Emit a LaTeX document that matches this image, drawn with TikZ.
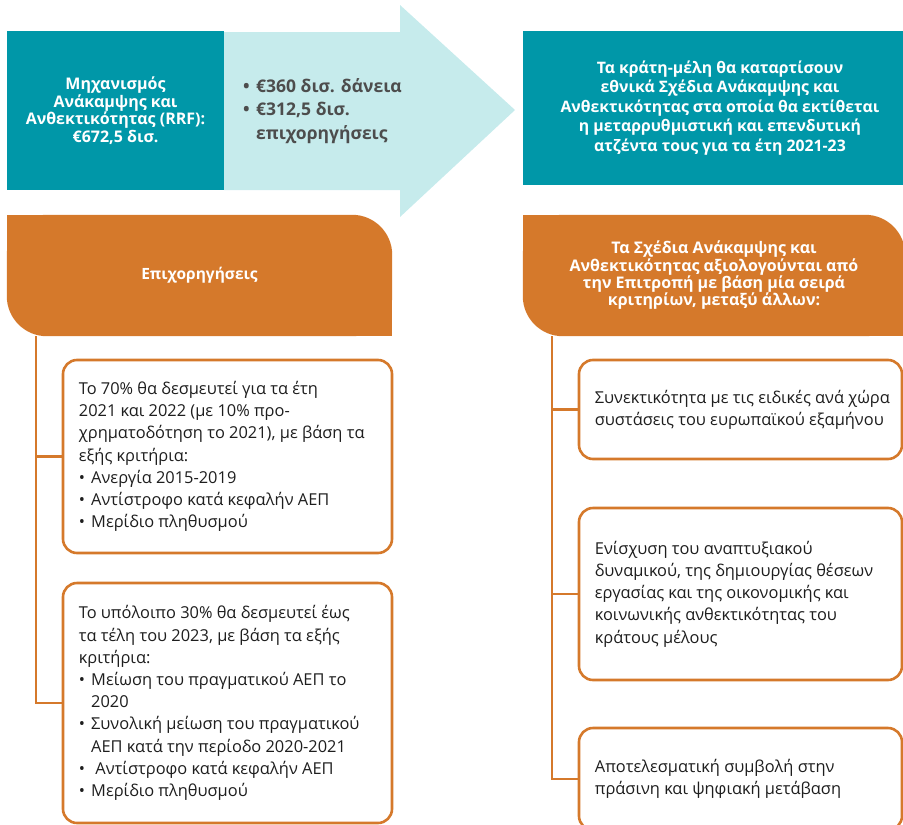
\documentclass[tikz,border=0pt]{standalone}
\usepackage{fontspec}
\setmainfont{Open Sans}
\usetikzlibrary{backgrounds,calc}
\definecolor{tealD}{HTML}{0097A8}
\definecolor{tealL}{HTML}{C6EBEC}
\definecolor{orng}{HTML}{D5792B}
\definecolor{txtG}{HTML}{4D4D4D}
\definecolor{txtB}{HTML}{1E1E1E}
\newcommand\bul{\makebox[0.75em][l]{•}}
\newcommand\ind{\hspace*{0.75em}}
\tikzset{
  hdrtext/.style={text=white, font=\bfseries\fontsize{16}{17.3}\selectfont, align=center, inner sep=0pt},
  tealbox/.style={fill=tealD, text=white, align=center, inner sep=0pt},
  critbox/.style={draw=orng, line width=2.6pt, rounded corners=14pt, fill=white, inner sep=0pt},
  crittext/.style={anchor=west, align=left, inner sep=0pt, font=\fontsize{16.4}{22.2}\selectfont, text=txtB},
  conn/.style={draw=orng, line width=2.6pt},
}
\begin{document}
\begin{tikzpicture}[x=1pt,y=-1pt]
\useasboundingbox (0,0) rectangle (903,825);
% light arrow
\fill[tealL] (224,32) -- (400,32) -- (400,5) -- (515,110) -- (400,217) -- (400,190) -- (224,190) -- cycle;
\node[tealbox, minimum width=217pt, minimum height=159pt, font=\bfseries\fontsize{16}{17.5}\selectfont] (rrf) at (115.5,110.5)
  {Μηχανισμός\\Ανάκαμψης και\\Ανθεκτικότητας (RRF):\\€672,5 δισ.};
\node[anchor=west, text=txtG, font=\bfseries\fontsize{17.5}{23.5}\selectfont, align=left, inner sep=0pt] (split) at (243,111)
  {\makebox[13pt][l]{•}€360 δισ. δάνεια\\\makebox[13pt][l]{•}€312,5 δισ.\\\hspace*{13pt}επιχορηγήσεις};
\node[tealbox, minimum width=394pt, minimum height=154pt, font=\bfseries\fontsize{15.8}{19.5}\selectfont] (plans) at (720,108)
  {Τα κράτη-μέλη θα καταρτίσουν\\εθνικά Σχέδια Ανάκαμψης και\\Ανθεκτικότητας στα οποία θα εκτίθεται\\η μεταρρυθμιστική και επενδυτική\\ατζέντα τους για τα έτη 2021-23};
% headers
\node[hdrtext, minimum width=385pt, minimum height=121pt, font=\bfseries\fontsize{15.5}{17.3}\selectfont] (hL) at (199.5,275.5) {Επιχορηγήσεις};
\node[hdrtext, minimum width=382pt, minimum height=121pt] (hR) at (714,275.5)
  {Τα Σχέδια Ανάκαμψης και\\Ανθεκτικότητας αξιολογούνται από\\την Επιτροπή με βάση μία σειρά\\κριτηρίων, μεταξύ άλλων:};
\begin{scope}[on background layer]
\foreach \n in {hL,hR}{
  \fill[orng, rounded corners=40pt] (\n.north west) rectangle (\n.south east);
  \fill[orng] (\n.north west) rectangle (\n.center);
  \fill[orng] (\n.center) rectangle (\n.south east);
}
\end{scope}
% spines
\coordinate (sL) at ([xshift=29pt]hL.south west);
\coordinate (sR) at ([xshift=29pt]hR.south west);
% left boxes
\node[critbox, minimum width=329pt, minimum height=193pt] (b1) at (227.5,456.5) {};
\node[crittext] (b1t) at ([xshift=17pt]b1.west)
  {Το 70\% θα δεσμευτεί για τα έτη\\2021 και 2022 (με 10\% προ-\\χρηματοδότηση το 2021), με βάση τα\\εξής κριτήρια:\\\bul Ανεργία 2015-2019\\\bul Αντίστροφο κατά κεφαλήν ΑΕΠ\\\bul Μερίδιο πληθυσμού};
\node[critbox, minimum width=329pt, minimum height=240pt] (b2) at (227.5,703) {};
\node[crittext] (b2t) at ([xshift=17pt]b2.west)
  {Το υπόλοιπο 30\% θα δεσμευτεί έως\\τα τέλη του 2023, με βάση τα εξής\\κριτήρια:\\\bul Μείωση του πραγματικού ΑΕΠ το\\\ind 2020\\\bul Συνολική μείωση του πραγματικού\\\ind ΑΕΠ κατά την περίοδο 2020-2021\\\bul\ Αντίστροφο κατά κεφαλήν ΑΕΠ\\\bul Μερίδιο πληθυσμού};
% right boxes
\node[critbox, minimum width=323pt, minimum height=99pt] (r1) at (740.5,409.5) {};
\node[crittext] (r1t) at ([xshift=17pt]r1.west)
  {Συνεκτικότητα με τις ειδικές ανά χώρα\\συστάσεις του ευρωπαϊκού εξαμήνου};
\node[critbox, minimum width=323pt, minimum height=172pt] (r2) at (740.5,594) {};
\node[crittext] (r2t) at ([xshift=17pt]r2.west)
  {Ενίσχυση του αναπτυξιακού\\δυναμικού, της δημιουργίας θέσεων\\εργασίας και της οικονομικής και\\κοινωνικής ανθεκτικότητας του\\κράτους μέλους};
\node[critbox, minimum width=323pt, minimum height=102pt] (r3) at (740.5,779) {};
\node[crittext] (r3t) at ([xshift=17pt]r3.west)
  {Αποτελεσματική συμβολή στην\\πράσινη και ψηφιακή μετάβαση};
% connectors
\draw[conn] (sL) |- (b1.west);
\draw[conn] (sL) |- (b2.west);
\draw[conn] (sR) |- (r1.west);
\draw[conn] (sR) |- (r2.west);
\draw[conn] (sR) |- (r3.west);
\end{tikzpicture}
\end{document}
